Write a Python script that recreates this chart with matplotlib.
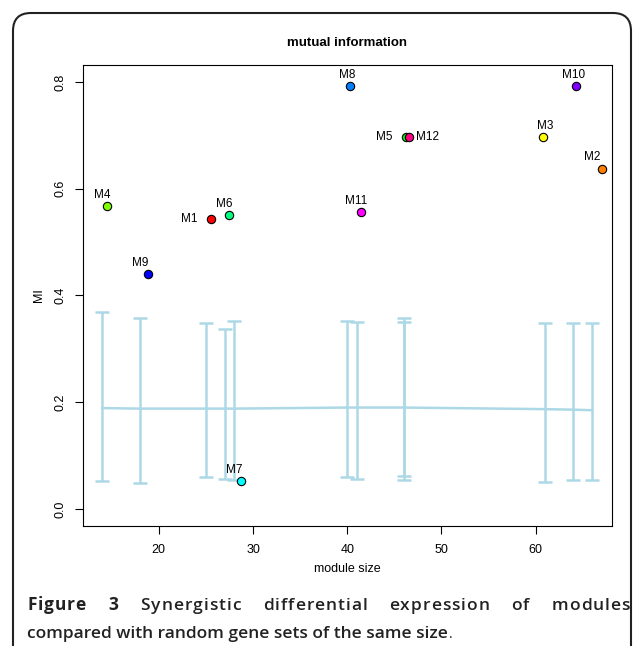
import matplotlib
matplotlib.use('Agg')
import matplotlib.pyplot as plt
from matplotlib.patches import FancyBboxPatch

# module sizes (where labels and random-set bars sit)
modules = ['M1', 'M2', 'M3', 'M4', 'M5', 'M6', 'M7', 'M8', 'M9', 'M10', 'M11', 'M12']
module_size = [25, 66, 61, 14, 46, 27, 28, 40, 18, 64, 41, 46]
# jittered x of the plotted points
point_x = [25.5, 67.0, 60.8, 14.5, 46.2, 27.5, 28.7, 40.35, 18.8, 64.3, 41.5, 46.6]
mi = [0.544, 0.638, 0.697, 0.568, 0.697, 0.550, 0.052, 0.792, 0.440, 0.792, 0.556, 0.697]
colors = ['#FF0000', '#FF8000', '#FFFF00', '#80FF00', '#00FF00', '#00FF80',
          '#00FFFF', '#0080FF', '#0000FF', '#8000FF', '#FF00FF', '#FF0080']
label_side = ['left', 'above', 'above', 'above', 'left', 'above',
              'above', 'above', 'above', 'above', 'above', 'right']

# random gene sets of the same size
rand_size = [14, 18, 25, 27, 28, 40, 41, 46, 46, 61, 64, 66]
rand_mean = [0.189, 0.188, 0.188, 0.188, 0.188, 0.190, 0.190, 0.190, 0.190, 0.187, 0.186, 0.185]
rand_hi = [0.369, 0.358, 0.348, 0.337, 0.352, 0.353, 0.350, 0.357, 0.351, 0.348, 0.349, 0.349]
rand_lo = [0.052, 0.049, 0.059, 0.056, 0.055, 0.059, 0.056, 0.062, 0.054, 0.050, 0.054, 0.054]

W, H = 633, 646
fig = plt.figure(figsize=(W / 100, H / 100), dpi=100)
plt.rcParams['font.family'] = ['Liberation Sans', 'DejaVu Sans']

# outer rounded frame of the figure panel
frame = FancyBboxPatch((0.13, -1.0), 6.18, 7.33, boxstyle='round,pad=0,rounding_size=0.18',
                       transform=fig.dpi_scale_trans, fill=False, edgecolor='#222222', lw=1.5)
fig.add_artist(frame)

ax = fig.add_axes([82.7 / W, 1 - 526 / H, 529 / W, 461 / H])

yerr = [[m - l for m, l in zip(rand_mean, rand_lo)], [h - m for m, h in zip(rand_mean, rand_hi)]]
ax.errorbar(rand_size, rand_mean, yerr=yerr, fmt='-', color='#ADD8E6', lw=1.8,
            capsize=4.7, capthick=1.8, elinewidth=1.8, zorder=1)

for i, name in enumerate(modules):
    ax.plot(point_x[i], mi[i], 'o', ms=6, mfc=colors[i], mec='black', mew=0.8, zorder=3)
    if label_side[i] == 'above':
        ax.annotate(name, (module_size[i], mi[i]), xytext=(0, 8), textcoords='offset points',
                    ha='center', va='center', fontsize=8.5, zorder=4)
    elif label_side[i] == 'left':
        ax.annotate(name, (point_x[i], mi[i]), xytext=(-9.5, 0), textcoords='offset points',
                    ha='right', va='center', fontsize=8.5, zorder=4)
    else:
        ax.annotate(name, (point_x[i], mi[i]), xytext=(4.5, 0), textcoords='offset points',
                    ha='left', va='center', fontsize=8.5, zorder=4)

ax.set_xlim(11.92, 68.08)
ax.set_ylim(-0.032, 0.832)
ax.set_xticks([20, 30, 40, 50, 60])
ax.set_yticks([0.0, 0.2, 0.4, 0.6, 0.8])
ax.set_yticklabels(['0.0', '0.2', '0.4', '0.6', '0.8'])
ax.tick_params(length=6, width=0.8, labelsize=9)
ax.tick_params(axis='y', pad=6)
ax.tick_params(axis='x', pad=7)
for lab in ax.get_yticklabels():
    lab.set_rotation(90)
    lab.set_va('center')
for s in ax.spines.values():
    s.set_linewidth(0.8)
    s.set_color('black')

ax.set_xlabel('module size', fontsize=9)
ax.set_ylabel('MI', fontsize=9)
ax.xaxis.set_label_coords(0.5, (526 - 569) / 461)
ax.xaxis.label.set_va('center')
ax.yaxis.set_label_coords((39 - 82.7) / 529, 0.5)
ax.yaxis.label.set_va('center')

fig.text(347 / W, 1 - 42.5 / H, 'mutual information', ha='center', va='center',
         fontsize=9.5, fontweight='bold')

# caption
renderer = fig.canvas.get_renderer()
cap_font = ['Open Sans', 'DejaVu Sans']
cap_size = 12.5
cap_color = '#222222'


def ink_width(s, wt):
    t = fig.text(0, 0, s, fontsize=cap_size, fontweight=wt, family=cap_font)
    w = t.get_window_extent(renderer).width
    t.remove()
    return w


def tracked_word(word, wt, ls):
    # char offsets inside a word, spread by ls px per char
    offs = []
    for k in range(len(word)):
        offs.append(ink_width(word[:k + 1], wt) - ink_width(word[k], wt) + k * ls)
    total = offs[-1] + ink_width(word[-1], wt)
    return offs, total


line1 = [('Figure', 'bold'), ('3', 'bold'), ('Synergistic', 'semibold'),
         ('differential', 'semibold'), ('expression', 'semibold'),
         ('of', 'semibold'), ('modules', 'semibold')]
x0, x1 = 27, 630
ls = 1.0
base1 = 1 - 610 / H
base2 = 1 - 638 / H
laid = [tracked_word(w, wt, ls) for w, wt in line1]
gap = (x1 - x0 - sum(tot for _, tot in laid)) / (len(line1) - 1)
xpos = x0
for (word, wt), (offs, tot) in zip(line1, laid):
    for ch, o in zip(word, offs):
        fig.text((xpos + o) / W, base1, ch, ha='left', va='baseline', fontsize=cap_size,
                 fontweight=wt, family=cap_font, color=cap_color)
    xpos += tot + gap

t2 = fig.text(x0 / W, base2, 'compared with random gene sets of the same size',
              ha='left', va='baseline', fontsize=cap_size, fontweight='semibold',
              family=cap_font, color=cap_color)
w2 = t2.get_window_extent(renderer).width
fig.text((x0 + w2 + 1) / W, base2, '.', ha='left', va='baseline', fontsize=10,
         family=cap_font, color=cap_color)

fig.savefig('out.png', dpi=100)
